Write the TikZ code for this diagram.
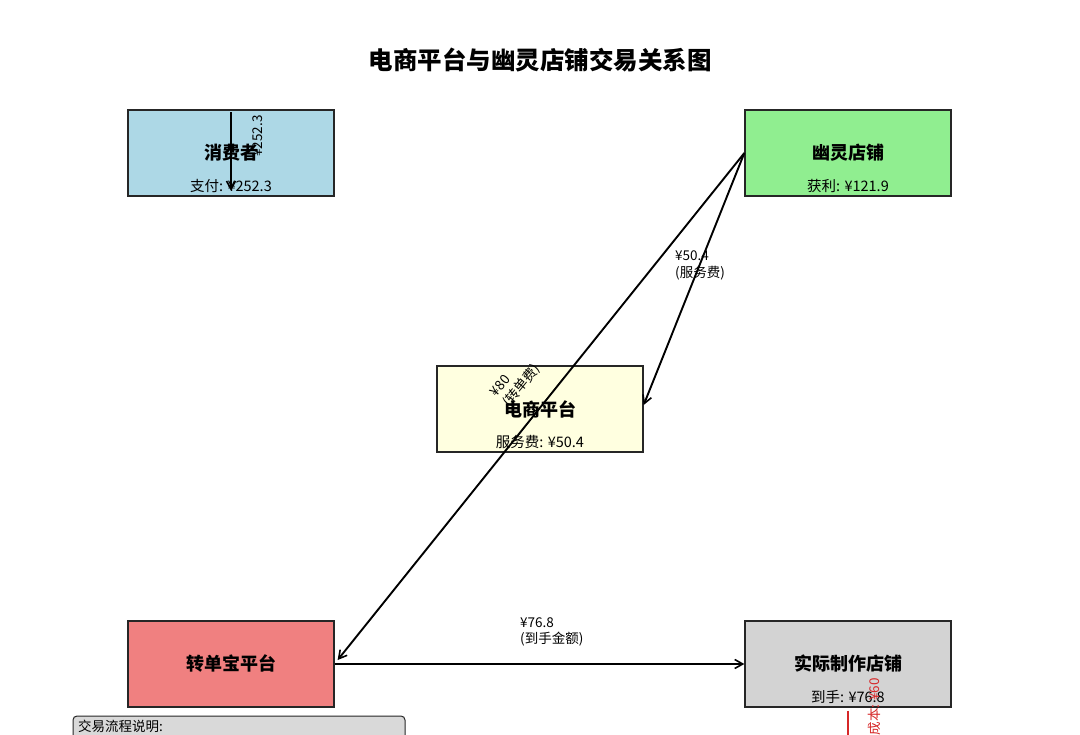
\documentclass[tikz,border=0pt]{standalone}
\usepackage{fontspec}
\setmainfont{Noto Sans CJK SC}
\usetikzlibrary{arrows.meta}
\definecolor{cLightBlue}{HTML}{ADD8E6}
\definecolor{cLightGreen}{HTML}{90EE90}
\definecolor{cLightYellow}{HTML}{FFFFE0}
\definecolor{cLightCoral}{HTML}{F08080}
\definecolor{cLightGray}{HTML}{D3D3D3}
\definecolor{cLegend}{HTML}{D9D9D9}
\definecolor{cCost}{HTML}{D62728}
\begin{document}
\begin{tikzpicture}[x=1pt,y=-1pt,
  box/.style={draw=black!85, line width=1.3pt, minimum width=206pt, minimum height=86pt, inner sep=0pt, font=\fontsize{18}{21}\selectfont\bfseries},
  sub/.style={font=\fontsize{14.5}{17}\selectfont, inner sep=0pt},
  lbl/.style={font=\fontsize{13.5}{16.5}\selectfont, inner sep=0pt, align=left},
  flow/.style={line width=1.9pt, -{Straight Barb[length=8pt,width=9pt,line width=1.6pt]}},
  costflow/.style={draw=cCost, line width=1.9pt},
]
\useasboundingbox (0,0) rectangle (1080,735);
\clip (0,0) rectangle (1080,735);

\node[font=\fontsize{24.5}{28}\selectfont\bfseries, inner sep=0pt] (title) at (540,60) {电商平台与幽灵店铺交易关系图};

% boxes
\node[box, fill=cLightBlue] (consumer) at (231,153) {消费者};
\node[sub] (consumerpay) at (231,186) {支付: ¥252.3};

\node[box, fill=cLightGreen] (ghost) at (848,153) {幽灵店铺};
\node[sub] (ghostprofit) at (848,186) {获利: ¥121.9};

\node[box, fill=cLightYellow] (platform) at (540,409) {电商平台};
\node[sub] (platformfee) at (540,442) {服务费: ¥50.4};

\node[box, fill=cLightCoral] (zdb) at (231,664) {转单宝平台};

\node[box, fill=cLightGray] (real) at (848,664) {实际制作店铺};
\node[sub] (realget) at (848,697) {到手: ¥76.8};

% consumer arrow
\draw[flow] ([yshift=-3pt]consumer.north) -- ([yshift=6pt]consumer.south);
\node[lbl, rotate=90] (l2523) at (258,136) {¥252.3};

% ghost -> platform, ghost -> zdb
\draw[flow] (ghost.west) -- ([yshift=4pt]platform.east);
\node[lbl, anchor=north west] (lfee) at (675,251) {¥50.4\\(服务费)};

\draw[flow] (ghost.west) -- ([xshift=3pt,yshift=4pt]zdb.east);
\node[lbl, rotate=51] (l80) at (516,381) {¥80\\(转单费)};

% zdb -> real
\draw[flow] (zdb.east) -- (real.west);
\node[lbl, anchor=north west] (l768) at (520,617) {¥76.8\\(到手金额)};

% cost arrow (continues below)
\coordinate (costend) at (848,800);
\draw[costflow] ([yshift=-3pt]real.south) -- (costend);
\node[lbl, text=cCost, rotate=90, anchor=east] (lcost) at (874,678) {成本: ¥60};

% legend
\draw[fill=cLegend, draw=black!85, line width=1pt, rounded corners=4pt] (73,716) rectangle (405,800);
\node[lbl, anchor=west] (legendtitle) at (78,726) {交易流程说明:};
\end{tikzpicture}
\end{document}
